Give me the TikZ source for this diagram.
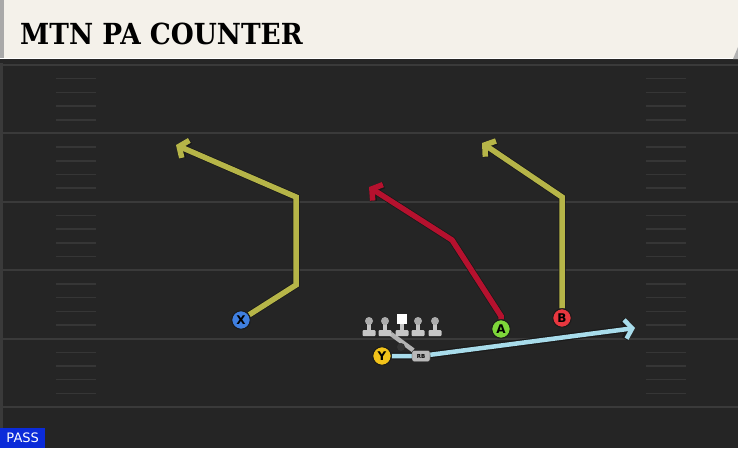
\documentclass[tikz,border=0pt]{standalone}
\usepackage{fontspec}
\setsansfont{DejaVu Sans}
\newfontfamily\titlefont{DejaVu Serif}
\usepackage{tikz}
\usetikzlibrary{shapes}
\usetikzlibrary{arrows.meta}

\definecolor{field}{HTML}{252525}
\definecolor{fieldedge}{HTML}{3A3A3A}
\definecolor{yardgray}{HTML}{3A3A3A}
\definecolor{hashgray}{HTML}{363636}
\definecolor{header}{HTML}{F4F1EA}
\definecolor{headeredge}{HTML}{A9A9A9}
\definecolor{routeyellow}{HTML}{B6B548}
\definecolor{routered}{HTML}{B5112E}
\definecolor{routecyan}{HTML}{A8DCEB}
\definecolor{xblue}{HTML}{3F7FE0}
\definecolor{yyellow}{HTML}{F2C31A}
\definecolor{agreen}{HTML}{7ED63A}
\definecolor{bred}{HTML}{E8373F}
\definecolor{passblue}{HTML}{0B2BD9}

\pgfdeclarelayer{field}
\pgfdeclarelayer{routes}
\pgfsetlayers{field,routes,main}

\tikzset{
  player/.style={circle,draw=black!90,line width=1pt,minimum size=18.5pt,inner sep=0pt,
    font=\sffamily\bfseries\fontsize{12}{12}\selectfont},
  route/.style={line width=5.5pt,line join=miter,-{Straight Barb[length=7pt,width=19pt]},
    preaction={draw=black!90,line width=7pt}},
  yard line/.style={yardgray,line width=2pt},
  hash/.style={hashgray,line width=1.5pt},
  lineman head/.style={fill=gray!65},
  lineman body/.style={fill=gray!45},
  rb box/.style={rectangle,rounded corners=2pt,draw=black!80,fill=gray!55,minimum width=18pt,
    minimum height=11pt,inner sep=0pt,font=\sffamily\bfseries\fontsize{5.5}{5.5}\selectfont},
  center box/.style={rectangle,fill=white,minimum size=10pt,inner sep=0pt}
}

\begin{document}
\begin{tikzpicture}[x=1pt,y=-1pt]
  \useasboundingbox (0,0) rectangle (738,448);

  % field
  \begin{pgfonlayer}{field}
  \fill[field] (0,59) rectangle (738,448);
  \fill[fieldedge] (0,59) rectangle (3,448);
  \fill[black!85] (0,59) rectangle (738,63);
  \foreach \k in {0,...,5} {
    \pgfmathsetmacro\yy{65+68.4*\k}
    \draw[yard line] (3,\yy) -- (738,\yy);
  }
  \foreach \k in {0,...,4} {
    \foreach \h in {1,...,4} {
      \pgfmathsetmacro\yy{65+68.4*\k+13.7*\h}
      \draw[hash] (56,\yy) -- (96,\yy);
      \draw[hash] (646,\yy) -- (686,\yy);
    }
  }
  % header
  \fill[header] (0,0) rectangle (738,58);
  \fill[headeredge] (0,0) rectangle (4,58);
  \fill[gray!60] (738,47) -- (738,59) -- (733,59) -- cycle;
  \end{pgfonlayer}

  \node[anchor=base west,inner sep=0pt] (title) at (20,44)
    {\scalebox{0.91}[1]{\titlefont\bfseries\fontsize{29}{29}\selectfont MTN PA COUNTER}};

  % players
  \node[player,fill=xblue] (X) at (241,320) {X};
  \node[player,fill=yyellow] (Y) at (382,356) {Y};
  \node[player,fill=agreen] (A) at (501,329) {A};
  \node[player,fill=bred] (B) at (562,318) {B};
  \node[circle,fill=gray!40!black,minimum size=8pt,inner sep=0pt] (QB) at (401,347) {};
  \node[rb box] (RB) at (421,356) {RB};
  \coordinate (fake) at (391,334);

  \coordinate (x1) at (296,285);
  \coordinate (x2) at (296,197);
  \coordinate (xend) at (176,145);
  \coordinate (a1) at (501,316);
  \coordinate (a2) at (452,240);
  \coordinate (aend) at (369,187);
  \coordinate (b1) at (562,197);
  \coordinate (bend) at (482,143);
  \coordinate (yend) at (635,328);

  % routes
  \begin{pgfonlayer}{routes}
  \draw[route,routeyellow] (X) -- (x1) -- (x2) -- (xend);
  \draw[route,routered] (A) -- (a1) -- (a2) -- (aend);
  \draw[route,routeyellow] (B) -- (b1) -- (bend);
  \draw[route,routecyan,line width=4.5pt] (Y) -- (RB) -- (yend);
  \draw[gray!60,line width=4.5pt] (fake) -- (RB);
  \end{pgfonlayer}

  % line
  \foreach \x in {369,385,418,435} {
    \fill[lineman body] (\x-2,321) rectangle (\x+2,331);
    \fill[lineman body,rounded corners=1pt] (\x-6.5,330) rectangle (\x+6.5,336);
    \fill[lineman head] (\x,321) circle (4);
  }
  \fill[lineman body] (400,322) rectangle (404,331);
  \fill[lineman body,rounded corners=1pt] (395.5,330) rectangle (408.5,336);
  \node[center box] (C) at (402,319) {};

  \node[anchor=south west,fill=passblue,text=white,minimum width=45pt,minimum height=20pt,
    inner sep=0pt,font=\sffamily\fontsize{13}{13}\selectfont] (pass) at (0,448) {PASS};
\end{tikzpicture}
\end{document}
